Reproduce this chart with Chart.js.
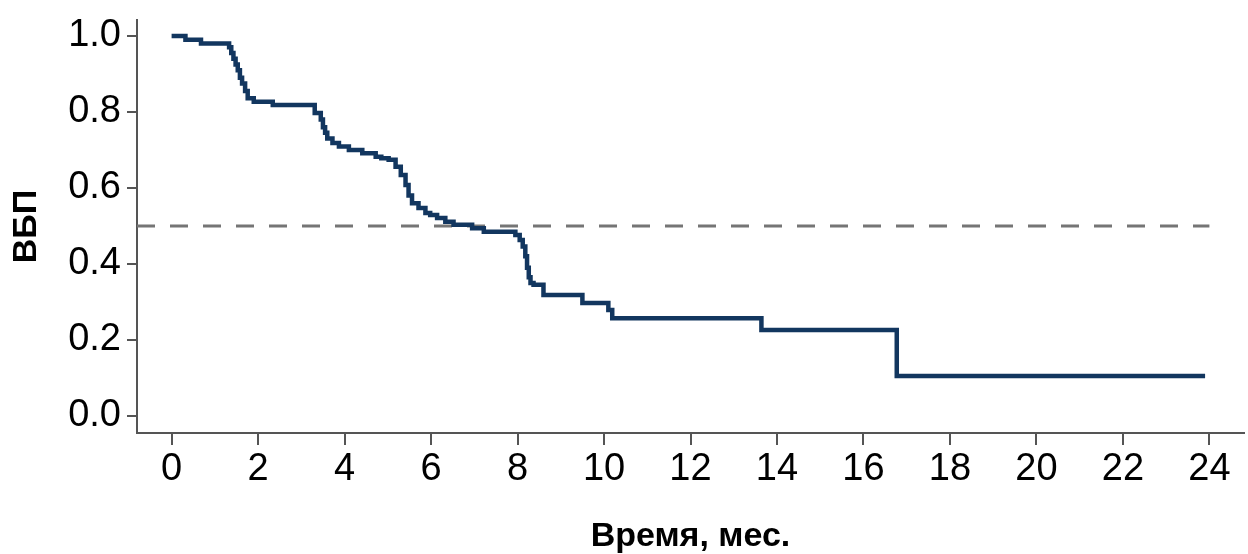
<!DOCTYPE html>
<html>
<head>
<meta charset="utf-8">
<script src="https://cdn.jsdelivr.net/npm/chart.js@4.4.1/dist/chart.umd.min.js"></script>
<style>
  html, body { margin: 0; padding: 0; background: #fff; }
  #wrap { width: 1248px; height: 554px; }
</style>
</head>
<body>
<div id="wrap"><canvas id="km"></canvas></div>
<script>
// Kaplan-Meier curve, values
const months = [0, 0.32, 0.68, 1.33, 1.38, 1.43, 1.48, 1.53, 1.58, 1.63, 1.7, 1.76, 1.9, 2.34,
  3.31, 3.45, 3.5, 3.55, 3.6, 3.72, 3.87, 4.1, 4.41, 4.72, 4.85, 5.02, 5.18, 5.3, 5.41, 5.48,
  5.56, 5.71, 5.87, 5.98, 6.14, 6.33, 6.52, 6.95, 7.22, 7.95, 8.05, 8.12, 8.18, 8.22, 8.26,
  8.3, 8.37, 8.6, 9.5, 10.1, 10.19, 13.64, 16.77, 23.9];
const survival = [1.0, 0.99, 0.98, 0.97, 0.955, 0.94, 0.925, 0.91, 0.89, 0.875, 0.855, 0.836, 0.827, 0.818,
  0.797, 0.78, 0.76, 0.745, 0.73, 0.718, 0.709, 0.70, 0.691, 0.682, 0.678, 0.674, 0.656, 0.634, 0.608, 0.58,
  0.56, 0.547, 0.534, 0.529, 0.521, 0.511, 0.503, 0.494, 0.485, 0.476, 0.463, 0.446, 0.42, 0.39, 0.365,
  0.35, 0.345, 0.318, 0.297, 0.279, 0.257, 0.226, 0.105, 0.105];

const xTicks = [0, 2, 4, 6, 8, 10, 12, 14, 16, 18, 20, 22, 24];
const yTicks = [0, 0.1, 0.2, 0.3, 0.4, 0.5, 0.6, 0.7, 0.8, 0.9, 1.0];
const yLabels = ['0.0', '', '0.2', '', '0.4', '', '0.6', '', '0.8', '', '1.0'];

const medianLevel = 0.5;
const medianSpan = [-0.8, 24];

let kmPoints = [];
for (let i = 0; i < months.length; i++) {
  kmPoints.push({x: months[i], y: survival[i]});
}

const axisColor = '#555';
const fontFam = '"Liberation Sans", Arial, sans-serif';

new Chart(document.getElementById('km'), {
  type: 'line',
  data: {
    datasets: [
      {
        data: kmPoints,
        stepped: true,
        borderColor: '#12365f',
        borderWidth: 4.5,
        pointRadius: 0,
        fill: false
      },
      {
        data: medianSpan.map(v => ({x: v, y: medianLevel})),
        borderColor: '#757575',
        borderWidth: 3,
        borderDash: [18, 15],
        pointRadius: 0,
        fill: false
      }
    ]
  },
  options: {
    responsive: true,
    maintainAspectRatio: false,
    animation: false,
    layout: { padding: { top: 0, right: 4, bottom: 0, left: 0 } },
    plugins: { legend: { display: false }, tooltip: { enabled: false } },
    scales: {
      x: {
        type: 'linear',
        min: -0.8,
        max: 24.8,
        afterBuildTicks: s => { s.ticks = xTicks.map(v => ({value: v})); },
        afterFit: s => { s.height = 121; },
        grid: { drawOnChartArea: false, drawTicks: true, tickLength: 12, color: axisColor, lineWidth: 2 },
        border: { display: true, color: axisColor, width: 2 },
        ticks: { color: '#000', font: { family: fontFam, size: 38 }, padding: 2, maxRotation: 0 },
        title: { display: true, text: 'Время, мес.', color: '#000',
          font: { family: fontFam, size: 34, weight: 'bold', lineHeight: 1.05 }, padding: { top: 0, bottom: 0 } }
      },
      y: {
        type: 'linear',
        min: -0.045,
        max: 1.042,
        afterBuildTicks: s => { s.ticks = yTicks.map(v => ({value: v})); },
        afterFit: s => { s.width = 137; s.paddingTop = 20; s.paddingBottom = 0; },
        grid: { drawOnChartArea: false, drawTicks: true, tickLength: 10, color: axisColor, lineWidth: 2 },
        border: { display: true, color: axisColor, width: 2 },
        ticks: {
          color: '#000', font: { family: fontFam, size: 38 }, padding: 6,
          callback: (v, i) => yLabels[i]
        },
        title: { display: true, text: 'ВБП', color: '#000',
          font: { family: fontFam, size: 34, weight: 'bold' }, padding: { top: 6, bottom: 0 } }
      }
    }
  }
});
</script>
</body>
</html>
